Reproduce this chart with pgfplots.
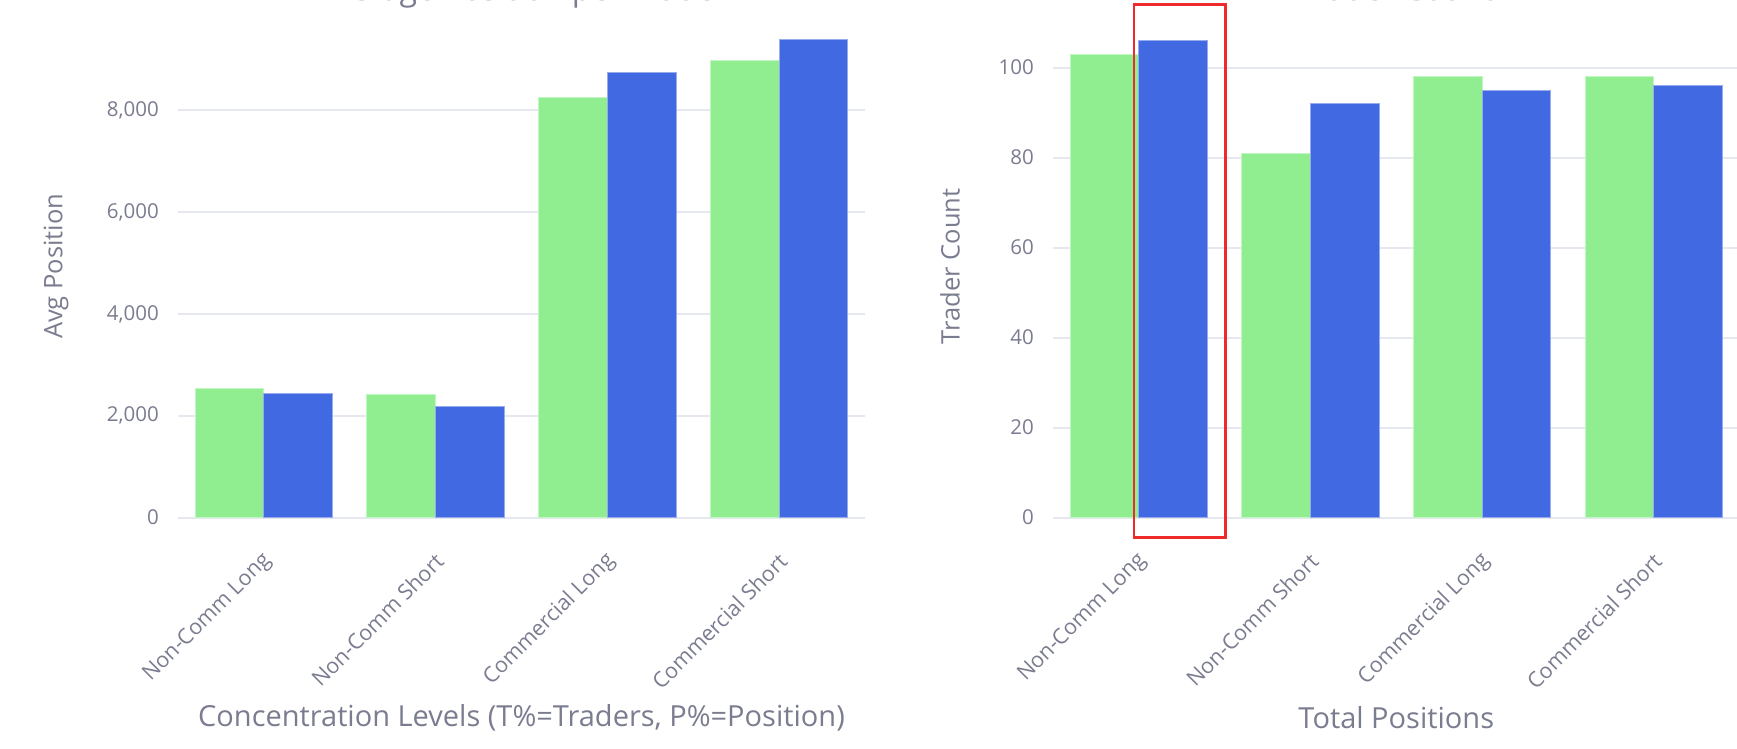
\documentclass[border=0pt]{standalone}
\usepackage{fontspec}
\setmainfont{Open Sans}
\usepackage{pgfplots}
\pgfplotsset{compat=1.18}
\definecolor{lgreen}{HTML}{90EE90}
\definecolor{rblue}{HTML}{4169E1}
\definecolor{gridc}{HTML}{E5E8EF}
\definecolor{txt}{HTML}{7A7C8F}
\definecolor{redbox}{HTML}{EE2A2A}
\newcommand{\xlabfont}{\fontsize{29bp}{34bp}\selectfont}
\newcommand{\ylabfont}{\fontsize{25.5bp}{30bp}\selectfont}
\pgfplotsset{
  cot/.style={
    scale only axis, anchor=south west,
    xmin=-0.5, xmax=3.5, ymin=0,
    axis line style={draw=none},
    tick style={draw=none},
    ymajorgrids, grid style={gridc, line width=2bp},
    xtick={0,1,2,3},
    xticklabels={Non-Comm Long, Non-Comm Short, Commercial Long, Commercial Short},
    /pgf/number format/assume math mode=true,
    /pgf/number format/1000 sep={,},
    scaled y ticks=false,
    ticklabel style={font=\fontsize{20.5bp}{24bp}\selectfont, text=txt},
    yticklabel style={inner sep=0pt, anchor=east, xshift=-19bp},
    xticklabel style={inner sep=0pt, xshift=4bp, yshift=-40bp, rotate=45, anchor=east, font=\fontsize{21.5bp}{25bp}\selectfont},
    every axis x label/.style={at={(rel axis cs:0.5,0)}, yshift=-200.5bp, anchor=center, font=\xlabfont, text=txt},
    title style={at={(rel axis cs:0.5,1)}, anchor=base, yshift=9bp, font=\fontsize{32bp}{38bp}\selectfont, text=txt},
  },
  gbar/.style={ybar, bar width=0.4, bar shift=-0.2, fill=lgreen, draw=lgreen!55!white, line width=1bp},
  bbar/.style={ybar, bar width=0.4, bar shift=0.2, fill=rblue, draw=rblue!55!white, line width=1bp},
}
\begin{document}
\begin{tikzpicture}
\useasboundingbox (0,0) rectangle (1737bp,-749bp);
\clip (0,0) rectangle (1737bp,-749bp);
\begin{axis}[cot,
  at={(178bp,-517.5bp)}, width=687bp, height=502.5bp,
  ymax=9874, ytick={0,2000,4000,6000,8000},
  title={Average Position per Trader},
  xlabel={Concentration Levels (T\%=Traders, P\%=Position)},
  ylabel={Avg Position},
  every axis y label/.style={at={(rel axis cs:0,0.5)}, xshift=-122bp, rotate=90, anchor=center, font=\ylabfont, text=txt},
]
\addplot[gbar] coordinates {(0,2535) (1,2417) (2,8259) (3,8974)};
\addplot[bbar] coordinates {(0,2437) (1,2181) (2,8744) (3,9393)};
\end{axis}
\begin{axis}[cot,
  at={(1053bp,-517.5bp)}, width=686.6bp, height=502.5bp,
  ymax=111.67, ytick={0,20,40,60,80,100},
  title={Trader Count},
  xlabel={Total Positions},
  ylabel={Trader Count},
  every axis y label/.style={at={(rel axis cs:0,0.5)}, xshift=-103bp, rotate=90, anchor=center, font=\ylabfont, text=txt},
]
\addplot[gbar] coordinates {(0,103) (1,81) (2,98) (3,98)};
\addplot[bbar] coordinates {(0,106) (1,92) (2,95) (3,96)};
\end{axis}
\draw[redbox, line width=2.7bp] (1134bp,-4.5bp) rectangle (1225.7bp,-537.5bp);
\end{tikzpicture}
\end{document}
